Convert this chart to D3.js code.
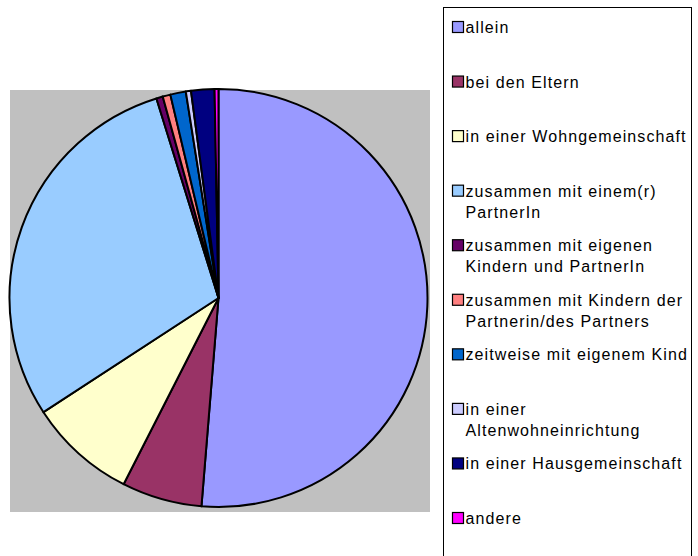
<!DOCTYPE html>
<html>
<head>
<meta charset="utf-8">
<script src="https://cdn.jsdelivr.net/npm/d3@7"></script>
<style>
  body { margin: 0; background: #ffffff; }
  svg { display: block; }
</style>
</head>
<body>
<div id="chart"></div>
<script>
// Wohnsituation (Anteile in %)
var categories = [
  "allein",
  "bei den Eltern",
  "in einer Wohngemeinschaft",
  "zusammen mit einem(r) PartnerIn",
  "zusammen mit eigenen Kindern und PartnerIn",
  "zusammen mit Kindern der Partnerin/des Partners",
  "zeitweise mit eigenem Kind",
  "in einer Altenwohneinrichtung",
  "in einer Hausgemeinschaft",
  "andere"
];
var values = [51.3, 6.2, 8.3, 29.4, 0.5, 0.6, 1.2, 0.4, 1.8, 0.3];
var colors = ["#9999ff", "#993366", "#ffffcc", "#99ccff", "#660066",
              "#ff8080", "#0066cc", "#ccccff", "#000080", "#ff00ff"];
// legend label lines (wrapped as in the original legend)
var legendLines = [
  ["allein"],
  ["bei den Eltern"],
  ["in einer Wohngemeinschaft"],
  ["zusammen mit einem(r)", "PartnerIn"],
  ["zusammen mit eigenen", "Kindern und PartnerIn"],
  ["zusammen mit Kindern der", "Partnerin/des Partners"],
  ["zeitweise mit eigenem Kind"],
  ["in einer", "Altenwohneinrichtung"],
  ["in einer Hausgemeinschaft"],
  ["andere"]
];

var width = 698, height = 556;

var svg = d3.select("#chart")
  .append("svg")
  .attr("width", width)
  .attr("height", height);

// Plot area (grey background)
var plot = {x: 10, y: 90, w: 420, h: 422};
svg.append("rect")
  .attr("x", plot.x)
  .attr("y", plot.y)
  .attr("width", plot.w)
  .attr("height", plot.h)
  .attr("fill", "#c0c0c0");

// Pie
var cx = 218.5, cy = 298, radius = 209;

var pie = d3.pie()
  .sort(null)
  .value(function(d){ return d; });

var arc = d3.arc()
  .innerRadius(0)
  .outerRadius(radius);

var slices = svg.append("g")
  .attr("transform", "translate(" + cx + "," + cy + ")");

slices.selectAll("path")
  .data(pie(values))
  .enter()
  .append("path")
  .attr("d", arc)
  .attr("fill", function(d, i){ return colors[i]; })
  .attr("stroke", "#000000")
  .attr("stroke-width", 2)
  .attr("stroke-linejoin", "round");

// Legend box
var legendBox = {x: 443, y: 7, w: 248, h: 560};
svg.append("rect")
  .attr("x", legendBox.x + 0.5)
  .attr("y", legendBox.y + 0.5)
  .attr("width", legendBox.w)
  .attr("height", legendBox.h)
  .attr("fill", "#ffffff")
  .attr("stroke", "#000000")
  .attr("stroke-width", 1);

var yLegend = d3.scalePoint()
  .domain(categories)
  .range([27, 518]);

var items = svg.append("g")
  .attr("class", "legend")
  .selectAll("g")
  .data(categories)
  .enter()
  .append("g")
  .attr("transform", function(d){ return "translate(452," + yLegend(d) + ")"; });

items.append("rect")
  .attr("x", 0.5)
  .attr("y", -5.5)
  .attr("width", 11)
  .attr("height", 11)
  .attr("fill", function(d, i){ return colors[i]; })
  .attr("stroke", "#000000")
  .attr("stroke-width", 1.2);

items.append("text")
  .attr("x", 13.5)
  .attr("y", 6)
  .attr("font-family", "Arial, 'Liberation Sans', sans-serif")
  .attr("font-size", 16)
  .style("letter-spacing", "1.1px")
  .attr("fill", "#000000")
  .selectAll("tspan")
  .data(function(d, i){ return legendLines[i]; })
  .enter()
  .append("tspan")
  .attr("x", 13.5)
  .attr("dy", function(d, j){ return j === 0 ? 0 : 21; })
  .text(function(d){ return d; });
</script>
</body>
</html>
